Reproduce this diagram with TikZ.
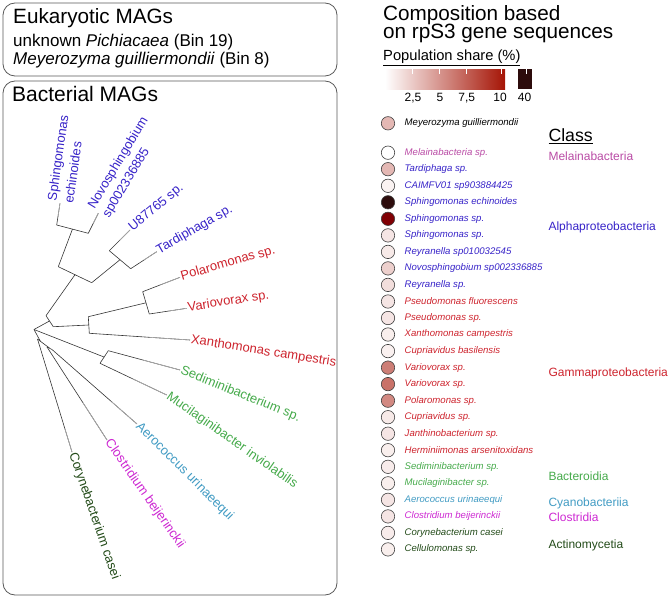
\documentclass[tikz,border=0pt]{standalone}
\usepackage{fontspec}
\setmainfont{Liberation Sans}
\usetikzlibrary{calc}
\definecolor{alphablue}{RGB}{55,35,200}
\definecolor{gammared}{RGB}{205,35,45}
\definecolor{bactgreen}{RGB}{70,170,75}
\definecolor{cyanoteal}{RGB}{65,155,195}
\definecolor{clostmag}{RGB}{205,40,210}
\definecolor{actinogreen}{RGB}{35,75,25}
\definecolor{melainapink}{RGB}{185,75,165}
\definecolor{sharered}{RGB}{165,20,5}
\definecolor{sharedeep}{RGB}{128,0,4}
\definecolor{sharemax}{RGB}{45,12,12}
\tikzset{
  box/.style={draw=black!65,line width=0.8pt,rounded corners=12pt},
  tree/.style={draw=black!80,line width=0.6pt},
  tip/.style={draw=black!30,line width=0.6pt},
  leaf/.style={anchor=west,inner sep=1pt,font=\fontsize{13}{14}\selectfont},
  twoleaf/.style={leaf,align=left},
  big/.style={anchor=base west,inner sep=0pt,font=\fontsize{20.7}{22}\selectfont},
  mid/.style={anchor=base west,inner sep=0pt,font=\fontsize{17}{18}\selectfont},
  dot/.style={circle,draw=black!75,line width=0.6pt,minimum size=13.4pt,inner sep=0pt},
  row/.style={anchor=west,inner sep=0pt,font=\fontsize{9.6}{10}\selectfont\itshape},
  cls/.style={anchor=west,inner sep=0pt,font=\fontsize{12}{13}\selectfont},
  tick/.style={anchor=base,inner sep=0pt,font=\fontsize{12}{13}\selectfont}
}
\begin{document}
\begin{tikzpicture}[x=1pt,y=-1pt]
\useasboundingbox (0,0) rectangle (672,599);
% boxes
\draw[box] (3,3) rectangle (337,76);
\draw[box] (3,81) rectangle (337,595);
\node(euk) at (13,24)[big]{Eukaryotic MAGs};
\node(bin19) at (13,46.7)[mid]{unknown \textit{Pichiacaea} (Bin 19)};
\node(bin8) at (13,65)[mid]{\textit{Meyerozyma guilliermondii} (Bin 8)};
\node(bact) at (12,101.7)[big,font=\fontsize{21}{22}\selectfont]{Bacterial MAGs};

% tree
\coordinate(root) at (34,329.5);
\coordinate(coreL) at (46,315.7);  \coordinate(coreR) at (53.3,326.7); \coordinate(core) at (49.5,321);
\coordinate(alphaL) at (58.3,266.7); \coordinate(alphaR) at (91.7,282.7); \coordinate(alpha) at (75,274.7);
\coordinate(snL) at (56.7,225);    \coordinate(snR) at (88.3,233.3);  \coordinate(sn) at (72.5,229);
\coordinate(utL) at (109.3,250.7); \coordinate(utR) at (130.7,268.7); \coordinate(ut) at (120,259.7);
\coordinate(gamL) at (88.3,316.7); \coordinate(gamR) at (89.3,333.3); \coordinate(gam) at (88.8,325);
\coordinate(pvL) at (142.7,291.7); \coordinate(pvR) at (149.3,314);   \coordinate(pv) at (146,302.8);
\coordinate(bacL) at (108.3,350.7); \coordinate(bacR) at (100,363.3); \coordinate(bac) at (104,357);
\coordinate(lowL) at (37.5,339);   \coordinate(lowR) at (44,344);     \coordinate(low) at (40.5,341.5);
\coordinate(clL) at (47,347);      \coordinate(clR) at (52,349.5);    \coordinate(cl) at (49.5,348);

\coordinate(tSe) at (60,203.3);  \coordinate(tNo) at (98.3,213.3);
\coordinate(tU8) at (130,230);   \coordinate(tTa) at (156.7,251.7);
\coordinate(tPo) at (180,277.3); \coordinate(tVa) at (186.7,308.3);
\coordinate(tXa) at (190,340);   \coordinate(tSd) at (180,370);
\coordinate(tMu) at (166.7,395); \coordinate(tAe) at (137,424);
\coordinate(tCl) at (107,440);   \coordinate(tCo) at (72,452);

\path[tree]
  (coreL) edge (coreR)   (alphaL) edge (alphaR)  (snL) edge (snR)
  (utL) edge (utR)       (gamL) edge (gamR)      (pvL) edge (pvR)
  (bacL) edge (bacR)     (lowL) edge (lowR)      (clL) edge (clR)
  (root) edge (core)     (root) edge (bac)       (root) edge (low)
  (coreL) edge (alpha)   (coreR) edge (gam)      (alphaL) edge (sn)
  (alphaR) edge (ut)     (gamL) edge (pv)        (lowR) edge (cl)
  (snL) edge (tSe)       (snR) edge (tNo)        (utL) edge (tU8)
  (utR) edge (tTa)       (pvL) edge (tPo)        (pvR) edge (tVa)
  (gamR) edge (tXa)      (bacL) edge (tSd)       (bacR) edge (tMu)
  (clR) edge (tAe)       (clL) edge (tCl)        (lowL) edge (tCo);
\path[tip]
  ($(snL)!.4!(tSe)$) edge (tSe)   ($(snR)!.5!(tNo)$) edge (tNo)
  ($(utL)!.5!(tU8)$) edge (tU8)   ($(utR)!.5!(tTa)$) edge (tTa)
  ($(pvL)!.5!(tPo)$) edge (tPo)   ($(pvR)!.5!(tVa)$) edge (tVa)
  ($(gamR)!.6!(tXa)$) edge (tXa)  ($(bacL)!.5!(tSd)$) edge (tSd)
  ($(bacR)!.5!(tMu)$) edge (tMu)  ($(clR)!.7!(tAe)$) edge (tAe)
  ($(clL)!.6!(tCl)$) edge (tCl)   ($(lowL)!.8!(tCo)$) edge (tCo);

\node(lSe) at (tSe)[twoleaf,rotate=82,alphablue]{Sphingomonas\\[3pt]echinoides};
\node(lNo) at (tNo)[twoleaf,rotate=59,alphablue]{Novosphingobium\\[3pt]sp002336885};
\node(lU8) at (tU8)[leaf,rotate=40,alphablue]{U87765 sp.};
\node(lTa) at (tTa)[leaf,rotate=30,alphablue]{Tardiphaga sp.};
\node(lPo) at (tPo)[leaf,rotate=16,gammared]{Polaromonas sp.};
\node(lVa) at (tVa)[leaf,rotate=9,gammared]{Variovorax sp.};
\node(lXa) at (tXa)[leaf,rotate=-9,gammared]{Xanthomonas campestris};
\node(lSd) at (tSd)[leaf,rotate=-22,bactgreen]{Sediminibacterium sp.};
\node(lMu) at (tMu)[leaf,rotate=-35,bactgreen]{Mucilaginibacter inviolabilis};
\node(lAe) at (tAe)[leaf,rotate=-45,cyanoteal]{Aerococcus urinaeequi};
\node(lCl) at (tCl)[leaf,rotate=-55,clostmag]{Clostridium beijerinckii};
\node(lCo) at (tCo)[leaf,rotate=-71,actinogreen]{Corynebacterium casei};

% legend
\node(comp1) at (383,20.5)[big]{Composition based};
\node(comp2) at (383,39)[big]{on rpS3 gene sequences};
\node(pop) at (383,61)[anchor=base west,inner sep=0pt,font=\fontsize{14.7}{15}\selectfont]{\underline{Population share (\%)}};
\shade[left color=white,right color=sharered] (385,69.3) rectangle (505,89.3);
\fill[sharemax] (517.7,69.3) rectangle (531.7,89.3);
\draw[white,line width=0.6pt] (412,69.3) -- (412,74) (439,69.3) -- (439,74) (466,69.3) -- (466,74)
  (501,69.3) -- (501,74) (526.7,69.3) -- (526.7,74);
\node(k25) at (413,101.7)[tick]{2,5};
\node(k5) at (440,101.7)[tick]{5};
\node(k75) at (466.7,101.7)[tick]{7,5};
\node(k10) at (500,101.7)[tick]{10};
\node(k40) at (524.5,101.7)[tick]{40};

\node(c0) at (388,123.3)[dot,fill=sharered!30!white]{};
\node(r0) at (404.5,123.3)[row]{Meyerozyma guilliermondii};

\node(c1) at (388,152.7)[dot,fill=white]{};
\node(r1) at (404.5,152.7)[row,melainapink]{Melainabacteria sp.};
\node(c2) at (388,169.2)[dot,fill=sharered!30!white]{};
\node(r2) at (404.5,169.2)[row,alphablue]{Tardiphaga sp.};
\node(c3) at (388,185.8)[dot,fill=sharered!5!white]{};
\node(r3) at (404.5,185.8)[row,alphablue]{CAIMFV01 sp903884425};
\node(c4) at (388,202.3)[dot,fill=sharemax]{};
\node(r4) at (404.5,202.3)[row,alphablue]{Sphingomonas echinoides};
\node(c5) at (388,218.8)[dot,fill=sharedeep]{};
\node(r5) at (404.5,218.8)[row,alphablue]{Sphingomonas sp.};
\node(c6) at (388,235.4)[dot,fill=sharered!11!white]{};
\node(r6) at (404.5,235.4)[row,alphablue]{Sphingomonas sp.};
\node(c7) at (388,251.9)[dot,fill=sharered!9!white]{};
\node(r7) at (404.5,251.9)[row,alphablue]{Reyranella sp010032545};
\node(c8) at (388,268.4)[dot,fill=sharered!20!white]{};
\node(r8) at (404.5,268.4)[row,alphablue]{Novosphingobium sp002336885};
\node(c9) at (388,284.9)[dot,fill=sharered!14!white]{};
\node(r9) at (404.5,284.9)[row,alphablue]{Reyranella sp.};
\node(c10) at (388,301.5)[dot,fill=sharered!11!white]{};
\node(r10) at (404.5,301.5)[row,gammared]{Pseudomonas fluorescens};
\node(c11) at (388,318)[dot,fill=sharered!11!white]{};
\node(r11) at (404.5,318)[row,gammared]{Pseudomonas sp.};
\node(c12) at (388,334.5)[dot,fill=sharered!7!white]{};
\node(r12) at (404.5,334.5)[row,gammared]{Xanthomonas campestris};
\node(c13) at (388,351.1)[dot,fill=sharered!6!white]{};
\node(r13) at (404.5,351.1)[row,gammared]{Cupriavidus basilensis};
\node(c14) at (388,367.6)[dot,fill=sharered!55!white]{};
\node(r14) at (404.5,367.6)[row,gammared]{Variovorax sp.};
\node(c15) at (388,384.1)[dot,fill=sharered!60!white]{};
\node(r15) at (404.5,384.1)[row,gammared]{Variovorax sp.};
\node(c16) at (388,400.7)[dot,fill=sharered!50!white]{};
\node(r16) at (404.5,400.7)[row,gammared]{Polaromonas sp.};
\node(c17) at (388,417.2)[dot,fill=sharered!9!white]{};
\node(r17) at (404.5,417.2)[row,gammared]{Cupriavidus sp.};
\node(c18) at (388,433.7)[dot,fill=sharered!11!white]{};
\node(r18) at (404.5,433.7)[row,gammared]{Janthinobacterium sp.};
\node(c19) at (388,450.2)[dot,fill=sharered!7!white]{};
\node(r19) at (404.5,450.2)[row,gammared]{Herminiimonas arsenitoxidans};
\node(c20) at (388,466.8)[dot,fill=sharered!8!white]{};
\node(r20) at (404.5,466.8)[row,bactgreen]{Sediminibacterium sp.};
\node(c21) at (388,483.3)[dot,fill=sharered!7!white]{};
\node(r21) at (404.5,483.3)[row,bactgreen]{Mucilaginibacter sp.};
\node(c22) at (388,499.8)[dot,fill=sharered!11!white]{};
\node(r22) at (404.5,499.8)[row,cyanoteal]{Aerococcus urinaeequi};
\node(c23) at (388,516.4)[dot,fill=sharered!11!white]{};
\node(r23) at (404.5,516.4)[row,clostmag]{Clostridium beijerinckii};
\node(c24) at (388,532.9)[dot,fill=sharered!8!white]{};
\node(r24) at (404.5,532.9)[row,actinogreen]{Corynebacterium casei};
\node(c25) at (388,549.4)[dot,fill=sharered!7!white]{};
\node(r25) at (404.5,549.4)[row,actinogreen]{Cellulomonas sp.};

% classes
\node(class) at (548.3,141.7)[anchor=base west,inner sep=0pt,font=\fontsize{17.7}{18}\selectfont]{\underline{Class}};
\node(melaina) at (548.3,156.7)[cls,melainapink]{Melainabacteria};
\node(alphacls) at (548.3,227.3)[cls,alphablue]{Alphaproteobacteria};
\node(gammacls) at (548.3,373.3)[cls,gammared]{Gammaproteobacteria};
\node(bactcls) at (548.3,476)[cls,bactgreen]{Bacteroidia};
\node(cyanocls) at (548.3,503.3)[cls,cyanoteal]{Cyanobacteriia};
\node(clostcls) at (548.3,517.3)[cls,clostmag]{Clostridia};
\node(actinocls) at (548.3,545)[cls,actinogreen]{Actinomycetia};
\end{tikzpicture}
\end{document}
